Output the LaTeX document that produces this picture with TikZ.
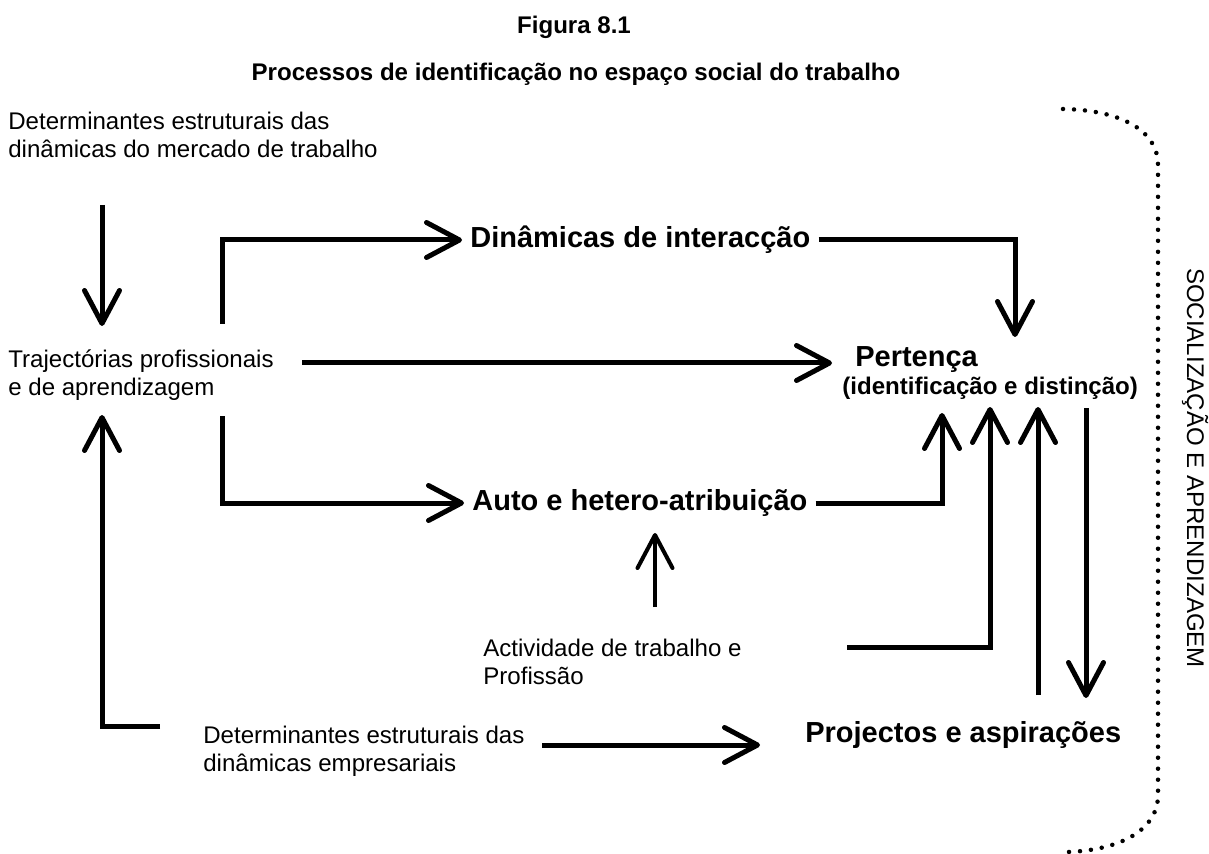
\documentclass[tikz,border=0pt]{standalone}
\usepackage{fontspec}
\setmainfont{Liberation Sans}
\usetikzlibrary{arrows.meta, positioning, calc}
\tikzstyle{txt} = [inner sep=0pt, anchor=west, align=left, font=\fontsize{13.7}{16}\selectfont]
\tikzstyle{head} = [inner sep=0pt, font=\fontsize{13.7}{16}\selectfont\bfseries]
\tikzstyle{key} = [inner sep=0.16cm, anchor=west, font=\fontsize{16.5}{19}\selectfont\bfseries]
\tikzstyle{link} = [line width=0.1cm]
\tikzstyle{arrow} = [line width=0.1cm, -{Straight Barb[length=0.66cm,width=0.7cm,round]}]
\tikzstyle{dots} = [line width=0.09cm, line cap=round, dash pattern=on 0pt off 0.22cm]

\begin{document}
\begin{tikzpicture}[x=0.02cm, y=-0.02cm]
    \useasboundingbox (0,0) rectangle (1209,854);
    % titulo
    \node[head] (fig) at (574,27) {Figura 8.1};
    \node[head] (title) at (576,74) {Processos de identificação no espaço social do trabalho};
    % textos
    \node[txt] (detmerc) at (8,135) {Determinantes estruturais das\\dinâmicas do mercado de trabalho};
    \node[txt] (traj) at (8,375) {Trajectórias profissionais\\e de aprendizagem};
    \node[key] (dinint) at (462,240) {Dinâmicas de interacção};
    \node[key] (auto) at (464,503) {Auto e hetero-atribuição};
    \node[key] (pert) at (847,360) {Pertença};
    \node[txt, font=\fontsize{13.7}{16}\selectfont\bfseries] (pertsub) at (842,388) {(identificação e distinção)};
    \node[txt] (activ) at (483,662) {Actividade de trabalho e\\Profissão};
    \node[txt] (detemp) at (203,751) {Determinantes estruturais das\\dinâmicas empresariais};
    \node[key] (proj) at (797,735) {Projectos e aspirações};
    \node[txt, anchor=center, rotate=-90] (social) at (1195,468) {SOCIALIZAÇÃO E APRENDIZAGEM};

    % pontas livres
    \coordinate (mercout) at (102,205);
    \coordinate (trajin) at (102,326);
    \coordinate (trajup) at (222,324);
    \coordinate (trajdown) at (222,416);
    \coordinate (trajout) at (302,363);
    \coordinate (pertin) at (832,363);
    \coordinate (pertina) at (1015,337);
    \coordinate (pertinb) at (942,413);
    \coordinate (pertinc) at (990,407);
    \coordinate (pertind) at (1038,407);
    \coordinate (pertout) at (1086,408);
    \coordinate (activup) at (655,607);
    \coordinate (autoin) at (655,533);
    \coordinate (activout) at (847,647);
    \coordinate (projout) at (1038,695);
    \coordinate (projin) at (1086,698);
    \coordinate (detempout) at (542,745);
    \coordinate (projleft) at (760,745);
    \coordinate (detempback) at (160,726);
    \coordinate (trajbelow) at (102,415);

    \draw[arrow] (mercout) -- (trajin);
    \draw[arrow] (trajup) |- (dinint.west);
    \draw[arrow] (trajdown) |- (auto.west);
    \draw[arrow] (trajout) -- (pertin);
    \draw[arrow] (dinint.east) -| (pertina);
    \draw[arrow] (auto.east) -| (pertinb);
    \draw[arrow, line width=0.08cm] (activup) -- (autoin);
    \draw[arrow] (activout) -| (pertinc);
    \draw[arrow] (projout) -- (pertind);
    \draw[arrow] (pertout) -- (projin);
    \draw[arrow] (detempout) -- (projleft);
    \draw[arrow] (detempback) -| (trajbelow);

    % chaveta pontilhada
    \draw[dots] (1063,109) .. controls (1120,110) and (1158,130) .. (1158,165)
        -- (1158,795) .. controls (1158,830) and (1120,850) .. (1068,852);
\end{tikzpicture}
\end{document}
